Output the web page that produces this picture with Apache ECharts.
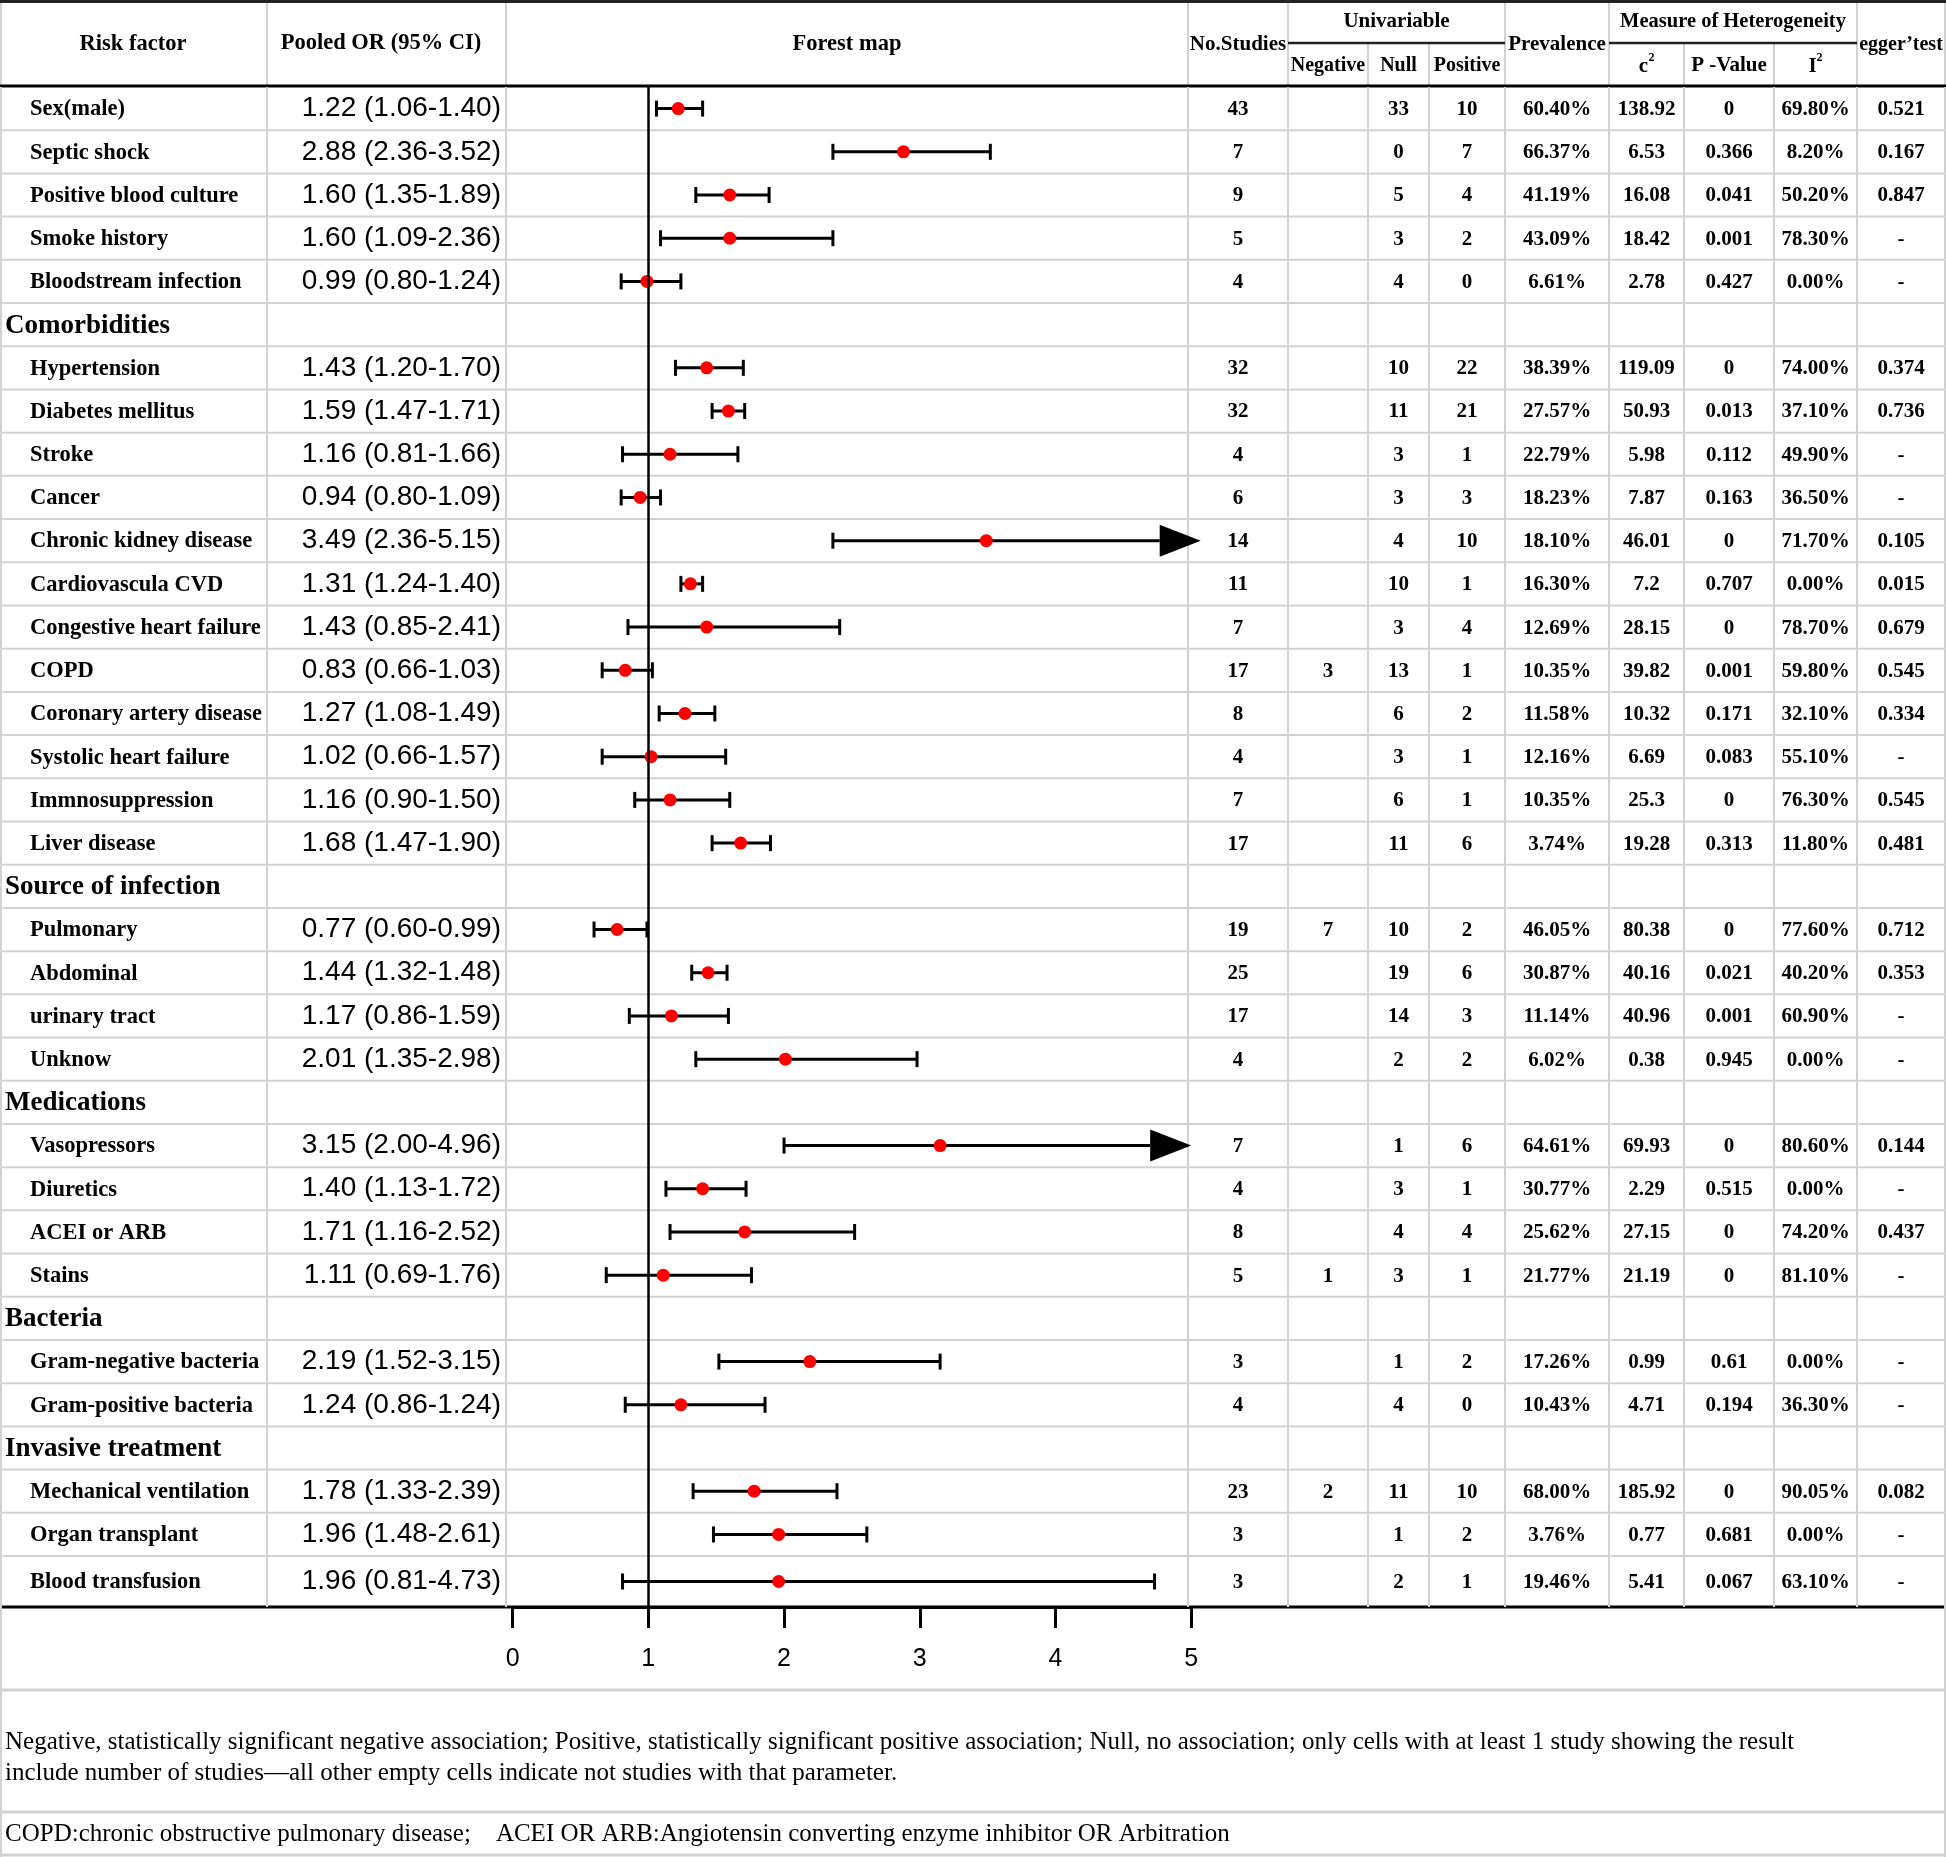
<!DOCTYPE html>
<html>
<head>
<meta charset="utf-8">
<script src="https://cdn.jsdelivr.net/npm/echarts/dist/echarts.min.js"></script>
<style>
html, body { margin: 0; padding: 0; background: #fff; }
#main { width: 1946px; height: 1857px; }
</style>
</head>
<body>
<div id="main"></div>
<script>
// ---- data ----
const riskFactors = ['Sex(male)', 'Septic shock', 'Positive blood culture', 'Smoke history', 'Bloodstream infection',
    'Comorbidities',
    'Hypertension', 'Diabetes mellitus', 'Stroke', 'Cancer', 'Chronic kidney disease', 'Cardiovascula CVD',
    'Congestive heart failure', 'COPD', 'Coronary artery disease', 'Systolic heart failure', 'Immnosuppression', 'Liver disease',
    'Source of infection',
    'Pulmonary', 'Abdominal', 'urinary tract', 'Unknow',
    'Medications',
    'Vasopressors', 'Diuretics', 'ACEI or ARB', 'Stains',
    'Bacteria',
    'Gram-negative bacteria', 'Gram-positive bacteria',
    'Invasive treatment',
    'Mechanical ventilation', 'Organ transplant', 'Blood transfusion'];
const sections = ['Comorbidities', 'Source of infection', 'Medications', 'Bacteria', 'Invasive treatment'];

const pooledOR = ['1.22 (1.06-1.40)', '2.88 (2.36-3.52)', '1.60 (1.35-1.89)', '1.60 (1.09-2.36)', '0.99 (0.80-1.24)',
    '',
    '1.43 (1.20-1.70)', '1.59 (1.47-1.71)', '1.16 (0.81-1.66)', '0.94 (0.80-1.09)', '3.49 (2.36-5.15)', '1.31 (1.24-1.40)',
    '1.43 (0.85-2.41)', '0.83 (0.66-1.03)', '1.27 (1.08-1.49)', '1.02 (0.66-1.57)', '1.16 (0.90-1.50)', '1.68 (1.47-1.90)',
    '',
    '0.77 (0.60-0.99)', '1.44 (1.32-1.48)', '1.17 (0.86-1.59)', '2.01 (1.35-2.98)',
    '',
    '3.15 (2.00-4.96)', '1.40 (1.13-1.72)', '1.71 (1.16-2.52)', '1.11 (0.69-1.76)',
    '',
    '2.19 (1.52-3.15)', '1.24 (0.86-1.24)',
    '',
    '1.78 (1.33-2.39)', '1.96 (1.48-2.61)', '1.96 (0.81-4.73)'];

// values as drawn in the forest map
const orPoint = [1.22, 2.88, 1.60, 1.60, 0.99, null, 1.43, 1.59, 1.16, 0.94, 3.49, 1.31, 1.43, 0.83, 1.27, 1.02, 1.16, 1.68,
    null, 0.77, 1.44, 1.17, 2.01, null, 3.15, 1.40, 1.71, 1.11, null, 2.19, 1.24, null, 1.78, 1.96, 1.96];
const ciLow = [1.06, 2.36, 1.35, 1.09, 0.80, null, 1.20, 1.47, 0.81, 0.80, 2.36, 1.24, 0.85, 0.66, 1.08, 0.66, 0.90, 1.47,
    null, 0.60, 1.32, 0.86, 1.35, null, 2.00, 1.13, 1.16, 0.69, null, 1.52, 0.83, null, 1.33, 1.48, 0.81];
const ciHigh = [1.40, 3.52, 1.89, 2.36, 1.24, null, 1.70, 1.71, 1.66, 1.09, 5.07, 1.40, 2.41, 1.03, 1.49, 1.57, 1.60, 1.90,
    null, 0.99, 1.58, 1.59, 2.98, null, 5.00, 1.72, 2.52, 1.76, null, 3.15, 1.86, null, 2.39, 2.61, 4.73];

const nStudies = ['43', '7', '9', '5', '4', '', '32', '32', '4', '6', '14', '11', '7', '17', '8', '4', '7', '17',
    '', '19', '25', '17', '4', '', '7', '4', '8', '5', '', '3', '4', '', '23', '3', '3'];
const uniNegative = ['', '', '', '', '', '', '', '', '', '', '', '', '', '3', '', '', '', '',
    '', '7', '', '', '', '', '', '', '', '1', '', '', '', '', '2', '', ''];
const uniNull = ['33', '0', '5', '3', '4', '', '10', '11', '3', '3', '4', '10', '3', '13', '6', '3', '6', '11',
    '', '10', '19', '14', '2', '', '1', '3', '4', '3', '', '1', '4', '', '11', '1', '2'];
const uniPositive = ['10', '7', '4', '2', '0', '', '22', '21', '1', '3', '10', '1', '4', '1', '2', '1', '1', '6',
    '', '2', '6', '3', '2', '', '6', '1', '4', '1', '', '2', '0', '', '10', '2', '1'];
const prevalence = ['60.40%', '66.37%', '41.19%', '43.09%', '6.61%', '', '38.39%', '27.57%', '22.79%', '18.23%', '18.10%',
    '16.30%', '12.69%', '10.35%', '11.58%', '12.16%', '10.35%', '3.74%', '', '46.05%', '30.87%', '11.14%', '6.02%', '',
    '64.61%', '30.77%', '25.62%', '21.77%', '', '17.26%', '10.43%', '', '68.00%', '3.76%', '19.46%'];
const chiSquare = ['138.92', '6.53', '16.08', '18.42', '2.78', '', '119.09', '50.93', '5.98', '7.87', '46.01', '7.2',
    '28.15', '39.82', '10.32', '6.69', '25.3', '19.28', '', '80.38', '40.16', '40.96', '0.38', '', '69.93', '2.29',
    '27.15', '21.19', '', '0.99', '4.71', '', '185.92', '0.77', '5.41'];
const pValue = ['0', '0.366', '0.041', '0.001', '0.427', '', '0', '0.013', '0.112', '0.163', '0', '0.707', '0', '0.001',
    '0.171', '0.083', '0', '0.313', '', '0', '0.021', '0.001', '0.945', '', '0', '0.515', '0', '0', '', '0.61', '0.194',
    '', '0', '0.681', '0.067'];
const iSquare = ['69.80%', '8.20%', '50.20%', '78.30%', '0.00%', '', '74.00%', '37.10%', '49.90%', '36.50%', '71.70%',
    '0.00%', '78.70%', '59.80%', '32.10%', '55.10%', '76.30%', '11.80%', '', '77.60%', '40.20%', '60.90%', '0.00%', '',
    '80.60%', '0.00%', '74.20%', '81.10%', '', '0.00%', '36.30%', '', '90.05%', '0.00%', '63.10%'];
const eggerTest = ['0.521', '0.167', '0.847', '-', '-', '', '0.374', '0.736', '-', '-', '0.105', '0.015', '0.679', '0.545',
    '0.334', '-', '0.545', '0.481', '', '0.712', '0.353', '-', '-', '', '0.144', '-', '0.437', '-', '', '-', '-', '',
    '0.082', '-', '-'];

const axisTicks = [0, 1, 2, 3, 4, 5];
const footnote1 = ['Negative, statistically significant negative association; Positive, statistically significant positive association; Null, no association; only cells with at least 1 study showing the result',
    'include number of studies\u2014all other empty cells indicate not studies with that parameter.'];
const footnote2 = 'COPD:chronic obstructive pulmonary disease;    ACEI OR ARB:Angiotensin converting enzyme inhibitor OR Arbitration';

// ---- layout ----
const W = 1946;
const TABLE_TOP = 87, TABLE_BOTTOM = 1607;
const LAST_ROW_UNITS = 1.18;       // last row is a bit taller
const lastRow = riskFactors.length - 1;
const Y_MAX = lastRow + LAST_ROW_UNITS;
const colEdges = [1, 267, 506, 1188, 1288, 1368, 1429, 1505, 1609, 1684, 1774, 1857, 1945];
const GRAY = '#d2d2d2';
const SERIF = '"Liberation Serif", "Times New Roman", serif';
const SANS = '"Liberation Sans", Arial, sans-serif';
const ARROW_AT = 4.99;

const dataCols = [nStudies, uniNegative, uniNull, uniPositive, prevalence, chiSquare, pValue, iSquare, eggerTest];
const colMid = k => (colEdges[k] + colEdges[k + 1]) / 2;

function rowCenter(i) {
    return i === lastRow ? i + LAST_ROW_UNITS / 2 : i + 0.5;
}

function renderTableRow(params, api) {
    const i = api.value(1);
    const yTop = api.coord([0, i])[1];
    const yBot = api.coord([0, i === lastRow ? Y_MAX : i + 1])[1];
    const yMid = (yTop + yBot) / 2;
    const children = [];
    colEdges.forEach(function (x) {
        children.push({type: 'line', shape: {x1: x, y1: yTop, x2: x, y2: yBot}, style: {stroke: GRAY, lineWidth: 2}});
    });
    if (i !== lastRow) {
        children.push({type: 'line', shape: {x1: 1, y1: yBot, x2: W - 1, y2: yBot}, style: {stroke: GRAY, lineWidth: 2}});
    }
    const name = riskFactors[i];
    if (sections.indexOf(name) >= 0) {
        children.push({type: 'text', x: 5, y: yMid + 1, style: {text: name, fontFamily: SERIF, fontWeight: 'bold', fontSize: 27,
                fill: '#000', align: 'left', verticalAlign: 'middle'}});
    } else {
        children.push({type: 'text', x: 30, y: yMid + 1, style: {text: name, fontFamily: SERIF, fontWeight: 'bold', fontSize: 22.5,
                fill: '#000', align: 'left', verticalAlign: 'middle'}});
        children.push({type: 'text', x: 501, y: yMid, style: {text: pooledOR[i], fontFamily: SANS, fontSize: 28,
                fill: '#000', align: 'right', verticalAlign: 'middle'}});
        dataCols.forEach(function (arr, k) {
            children.push({type: 'text', x: colMid(k + 3), y: yMid + 1, style: {text: arr[i], fontFamily: SERIF,
                    fontWeight: 'bold', fontSize: 21, fill: '#000', align: 'center', verticalAlign: 'middle'}});
        });
    }
    return {type: 'group', children: children};
}

function renderCI(params, api) {
    const lo = api.value(0), hi = api.value(1), y = api.value(2);
    const a = api.coord([lo, y]), b = api.coord([hi, y]);
    const cap = 8;
    const ls = {stroke: '#000', lineWidth: 3};
    const children = [{type: 'line', shape: {x1: a[0], y1: a[1] - cap, x2: a[0], y2: a[1] + cap}, style: ls}];
    if (hi >= ARROW_AT) {
        const base = b[0] - 41;
        children.push({type: 'line', shape: {x1: a[0], y1: a[1], x2: base, y2: b[1]}, style: ls});
        children.push({type: 'polygon', shape: {points: [[base, b[1] - 16], [b[0], b[1]], [base, b[1] + 16]]},
            style: {fill: '#000'}});
    } else {
        children.push({type: 'line', shape: {x1: a[0], y1: a[1], x2: b[0], y2: b[1]}, style: ls});
        children.push({type: 'line', shape: {x1: b[0], y1: b[1] - cap, x2: b[0], y2: b[1] + cap}, style: ls});
    }
    return {type: 'group', children: children};
}

let tableData = [], ciData = [], pointData = [];
riskFactors.forEach(function (name, i) {
    tableData.push([0, i]);
    if (orPoint[i] !== null) {
        ciData.push([ciLow[i], ciHigh[i], rowCenter(i)]);
        pointData.push([orPoint[i], rowCenter(i)]);
    }
});

// header + footnotes
function hText(text, x, y, size, extra) {
    return Object.assign({type: 'text', x: x, y: y, silent: true, style: {text: text, fontFamily: SERIF, fontWeight: 'bold',
            fontSize: size || 21, fill: '#000', align: 'center', verticalAlign: 'middle'}}, extra || {});
}
function hLine(x1, y1, x2, y2, color, w) {
    return {type: 'line', silent: true, shape: {x1: x1, y1: y1, x2: x2, y2: y2}, style: {stroke: color, lineWidth: w}};
}

let graphics = [];
// header vertical separators
[1, 267, 506, 1188, 1288, 1505, 1609, 1857, 1945].forEach(function (x) {
    graphics.push(hLine(x, 0, x, TABLE_TOP, GRAY, 2));
});
[1368, 1429, 1684, 1774].forEach(function (x) {
    graphics.push(hLine(x, 43, x, TABLE_TOP, GRAY, 2));
});
graphics.push(hLine(0, 1.5, W, 1.5, '#222', 3));
graphics.push(hLine(1288, 43, 1505, 43, '#222', 2.5));
graphics.push(hLine(1609, 43, 1857, 43, '#222', 2.5));
graphics.push(hLine(0, 86, W, 86, '#000', 3));
graphics.push(hLine(0, TABLE_BOTTOM, W, TABLE_BOTTOM, '#000', 3));

graphics.push(hText('Risk factor', 133, 44, 22.5));
graphics.push(hText('Pooled OR (95% CI)', 381, 43, 22.5));
graphics.push(hText('Forest map', 847, 44, 22.5));
graphics.push(hText('No.Studies', colMid(3), 45));
graphics.push(hText('Univariable', (1288 + 1505) / 2, 22));
graphics.push(hText('Negative', colMid(4), 66, 20));
graphics.push(hText('Null', colMid(5), 66, 20));
graphics.push(hText('Positive', colMid(6), 66, 20));
graphics.push(hText('Prevalence', colMid(7), 45));
graphics.push(hText('Measure of Heterogeneity', (1609 + 1857) / 2, 22, 20.5));
graphics.push(hText('c', colMid(8) - 3, 67));
graphics.push(hText('2', colMid(8) + 5, 58, 12));
graphics.push(hText('P -Value', colMid(9), 66));
graphics.push(hText('I', colMid(10) - 3, 67));
graphics.push(hText('2', colMid(10) + 4, 58, 12));
graphics.push(hText('egger\u2019test', colMid(11), 45, 20));

// lower area borders
graphics.push(hLine(1, TABLE_BOTTOM, 1, 1857, GRAY, 2));
graphics.push(hLine(1945, TABLE_BOTTOM, 1945, 1857, GRAY, 2));
graphics.push(hLine(0, 1690, W, 1690, GRAY, 3));
graphics.push(hLine(0, 1812, W, 1812, GRAY, 3));
graphics.push(hLine(0, 1855, W, 1855, GRAY, 3));
footnote1.forEach(function (t, k) {
    graphics.push({type: 'text', x: 5, y: 1742 + k * 31, silent: true, style: {text: t, fontFamily: SERIF, fontSize: 25,
            fill: '#000', align: 'left', verticalAlign: 'middle'}});
});
graphics.push({type: 'text', x: 5, y: 1834, silent: true, style: {text: footnote2, fontFamily: SERIF, fontSize: 25,
        fill: '#000', align: 'left', verticalAlign: 'middle'}});

let chart = echarts.init(document.getElementById('main'));
chart.setOption({
    backgroundColor: '#ffffff',
    animation: false,
    grid: {left: 512.6, top: TABLE_TOP, width: 678.6, height: TABLE_BOTTOM - TABLE_TOP},
    xAxis: {
        type: 'value',
        min: axisTicks[0],
        max: axisTicks[axisTicks.length - 1],
        interval: 1,
        position: 'bottom',
        axisLine: {onZero: false, lineStyle: {color: '#000', width: 3}},
        axisTick: {length: 21, lineStyle: {color: '#000', width: 3}},
        axisLabel: {margin: 40, fontSize: 25, fontFamily: SANS, color: '#000'},
        splitLine: {show: false}
    },
    yAxis: {type: 'value', min: 0, max: Y_MAX, inverse: true, show: false},
    graphic: graphics,
    series: [
        {
            type: 'custom',
            name: 'table',
            silent: true,
            clip: false,
            renderItem: renderTableRow,
            encode: {x: 0, y: 1},
            data: tableData
        },
        {
            type: 'line',
            name: 'reference',
            silent: true,
            data: [],
            markLine: {
                silent: true,
                symbol: 'none',
                label: {show: false},
                lineStyle: {color: '#000', width: 2.5, type: 'solid'},
                data: [{xAxis: 1}]
            }
        },
        {
            type: 'custom',
            name: 'CI',
            silent: true,
            clip: false,
            renderItem: renderCI,
            encode: {x: [0, 1], y: 2},
            data: ciData
        },
        {
            type: 'scatter',
            name: 'OR',
            silent: true,
            symbol: 'circle',
            symbolSize: 13,
            itemStyle: {color: '#ff0000', opacity: 1},
            data: pointData
        }
    ]
});
</script>
</body>
</html>
